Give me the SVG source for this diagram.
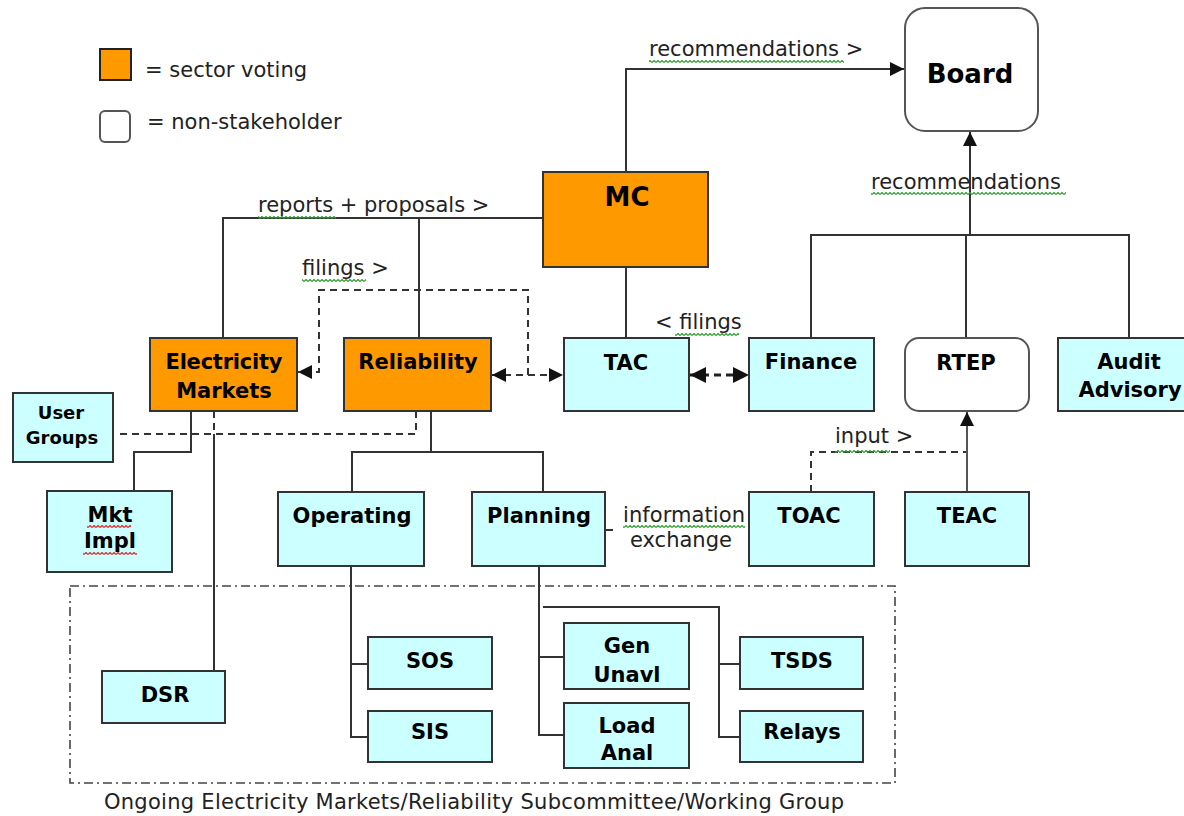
<svg xmlns="http://www.w3.org/2000/svg" width="1184" height="816" viewBox="0 0 1184 816">
<style>
.box{stroke:#333;stroke-width:2}
.vote{fill:#FF9900}
.sub{fill:#CCFFFF}
.ns{fill:#fff;stroke:#555;stroke-width:2}
.lbl{font-family:"DejaVu Sans",Verdana,sans-serif;font-weight:bold;font-size:21px;fill:#000;text-anchor:middle}
.big{font-size:26px}
.sm{font-size:18px}
.ann{font-family:"DejaVu Sans",Verdana,sans-serif;font-size:21px;fill:#222}
.ln{stroke:#333;stroke-width:2;fill:none}
.dash{stroke:#333;stroke-width:2;fill:none;stroke-dasharray:7 5}
.dashb{stroke:#222;stroke-width:3;fill:none;stroke-dasharray:7 5}
.sq{stroke-width:1.2;fill:none}
</style>
<defs>
<marker id="arr" viewBox="0 0 10 10" refX="10" refY="5" markerUnits="userSpaceOnUse" markerWidth="16" markerHeight="14" orient="auto-start-reverse"><path d="M0,0 L10,5 L0,10 z" fill="#111"/></marker>
<marker id="arrb" viewBox="0 0 10 10" refX="10" refY="5" markerUnits="userSpaceOnUse" markerWidth="16" markerHeight="16" orient="auto-start-reverse"><path d="M0,0 L10,5 L0,10 z" fill="#111"/></marker>
<pattern id="sqg" width="4" height="3" patternUnits="userSpaceOnUse"><path d="M0,2.5 L2,0.5 L4,2.5" stroke="#2f9a2f" class="sq"/></pattern>
<pattern id="sqr" width="4" height="3" patternUnits="userSpaceOnUse"><path d="M0,2.5 L2,0.5 L4,2.5" stroke="#e02828" class="sq"/></pattern>
</defs>
<rect width="1184" height="816" fill="#fff"/>

<g id="legend">
<rect x="100" y="49" width="31" height="31" class="vote" stroke="#222" stroke-width="2"/>
<text x="145" y="77" class="ann">= sector voting</text>
<rect x="100" y="111" width="30" height="31" rx="5" class="ns"/>
<text x="147" y="129" class="ann">= non-stakeholder</text>
</g>

<g id="boundary">
<rect x="70" y="586" width="825" height="197" fill="none" stroke="#444" stroke-width="1.6" stroke-dasharray="9 4 2 4"/>
<text x="104" y="809" class="ann" textLength="740">Ongoing Electricity Markets/Reliability Subcommittee/Working Group</text>
</g>

<g id="connectors">
<path d="M626,172 V69 H904" class="ln" marker-end="url(#arr)"/>
<path d="M811,338 V235 H1129 V338" class="ln"/>
<path d="M966,338 V235" class="ln"/>
<path d="M970,235 V132" class="ln" marker-end="url(#arr)"/>
<path d="M223,338 V218 H543" class="ln"/>
<path d="M419,218 V338" class="ln"/>
<path d="M626,267 V338" class="ln"/>
<path d="M528,375 V290 H319 V372 H298" class="dash" marker-end="url(#arr)"/>
<path d="M492,375 H563" class="dash" marker-start="url(#arr)" marker-end="url(#arr)"/>
<path d="M690,375 H749" class="dashb" marker-start="url(#arrb)" marker-end="url(#arrb)"/>
<path d="M120,434 H416 V411" class="dash"/>
<path d="M191,411 V452 H134 V491" class="ln"/>
<path d="M214,411 V434" class="dash" stroke-width="3"/>
<path d="M214,434 V671" class="ln"/>
<path d="M431,411 V452" class="ln"/>
<path d="M352,492 V452 H543 V492" class="ln"/>
<path d="M605,530 H613" class="ln"/>
<path d="M351,566 V737 H368 M351,664 H368" class="ln"/>
<path d="M539,566 V735 H564 M539,657 H564" class="ln"/>
<path d="M543,607 H719 V737 H740 M719,664 H740" class="ln"/>
<path d="M811,492 V452 H966" class="dash"/>
<path d="M967,492 V412" stroke="#555" stroke-width="2" fill="none" marker-end="url(#arr)"/>
<text x="649" y="56" class="ann">recommendations &gt;</text>
<text x="871" y="189" class="ann">recommendations</text>
<text x="258" y="212" class="ann">reports + proposals &gt;</text>
<text x="302" y="275" class="ann">filings &gt;</text>
<text x="655" y="329" class="ann">&lt; filings</text>
<text x="835" y="443" class="ann">input &gt;</text>
<text x="623" y="522" class="ann" textLength="122">information</text>
<text x="630" y="547" class="ann">exchange</text>
<rect x="649" y="60" width="195" height="3" fill="url(#sqg)"/>
<rect x="871" y="192" width="195" height="3" fill="url(#sqg)"/>
<rect x="258" y="216" width="78" height="3" fill="url(#sqg)"/>
<rect x="302" y="279" width="64" height="3" fill="url(#sqg)"/>
<rect x="675" y="333" width="64" height="3" fill="url(#sqg)"/>
<rect x="835" y="450" width="55" height="3" fill="url(#sqg)"/>
<rect x="623" y="525" width="122" height="3" fill="url(#sqg)"/>
</g>

<g id="board"><rect x="905" y="8" width="133" height="123" rx="20" class="ns"/><text x="970" y="83" class="lbl big">Board</text></g>
<g id="mc"><rect x="543" y="172" width="165" height="95" class="box vote"/><text x="627" y="206" class="lbl big">MC</text></g>
<g id="electricity-markets"><rect x="150" y="338" width="147" height="73" class="box vote"/><text x="224" y="369" class="lbl" textLength="117">Electricity</text><text x="224" y="398" class="lbl">Markets</text></g>
<g id="reliability"><rect x="344" y="338" width="147" height="73" class="box vote"/><text x="418" y="369" class="lbl">Reliability</text></g>
<g id="tac"><rect x="564" y="338" width="125" height="73" class="box sub"/><text x="626" y="370" class="lbl">TAC</text></g>
<g id="finance"><rect x="749" y="338" width="125" height="73" class="box sub"/><text x="811" y="369" class="lbl">Finance</text></g>
<g id="rtep"><rect x="905" y="338" width="124" height="73" rx="14" class="ns"/><text x="966" y="370" class="lbl">RTEP</text></g>
<g id="audit-advisory"><rect x="1058" y="338" width="140" height="73" class="box sub"/><text x="1129" y="369" class="lbl">Audit</text><text x="1130" y="397" class="lbl">Advisory</text></g>
<g id="user-groups"><rect x="13" y="393" width="100" height="69" class="box sub"/><text x="61" y="419" class="lbl sm">User</text><text x="62" y="444" class="lbl sm">Groups</text></g>
<g id="mkt-impl"><rect x="47" y="491" width="125" height="81" class="box sub"/><text x="110" y="522" class="lbl">Mkt</text><text x="110" y="548" class="lbl">Impl</text><rect x="87" y="525" width="44" height="3" fill="url(#sqr)"/><rect x="83" y="552" width="54" height="3" fill="url(#sqr)"/></g>
<g id="operating"><rect x="278" y="492" width="146" height="74" class="box sub"/><text x="352" y="523" class="lbl">Operating</text></g>
<g id="planning"><rect x="472" y="492" width="133" height="74" class="box sub"/><text x="539" y="523" class="lbl">Planning</text></g>
<g id="toac"><rect x="749" y="492" width="125" height="74" class="box sub"/><text x="809" y="523" class="lbl">TOAC</text></g>
<g id="teac"><rect x="905" y="492" width="124" height="74" class="box sub"/><text x="967" y="523" class="lbl">TEAC</text></g>
<g id="dsr"><rect x="102" y="671" width="123" height="52" class="box sub"/><text x="165" y="702" class="lbl">DSR</text></g>
<g id="sos"><rect x="368" y="637" width="124" height="52" class="box sub"/><text x="430" y="668" class="lbl">SOS</text></g>
<g id="sis"><rect x="368" y="711" width="124" height="51" class="box sub"/><text x="430" y="739" class="lbl">SIS</text></g>
<g id="gen-unavl"><rect x="564" y="623" width="125" height="66" class="box sub"/><text x="627" y="653" class="lbl">Gen</text><text x="627" y="682" class="lbl">Unavl</text></g>
<g id="load-anal"><rect x="564" y="703" width="125" height="65" class="box sub"/><text x="627" y="733" class="lbl">Load</text><text x="627" y="760" class="lbl">Anal</text></g>
<g id="tsds"><rect x="740" y="637" width="123" height="52" class="box sub"/><text x="802" y="668" class="lbl">TSDS</text></g>
<g id="relays"><rect x="740" y="711" width="123" height="51" class="box sub"/><text x="802" y="739" class="lbl">Relays</text></g>
</svg>
